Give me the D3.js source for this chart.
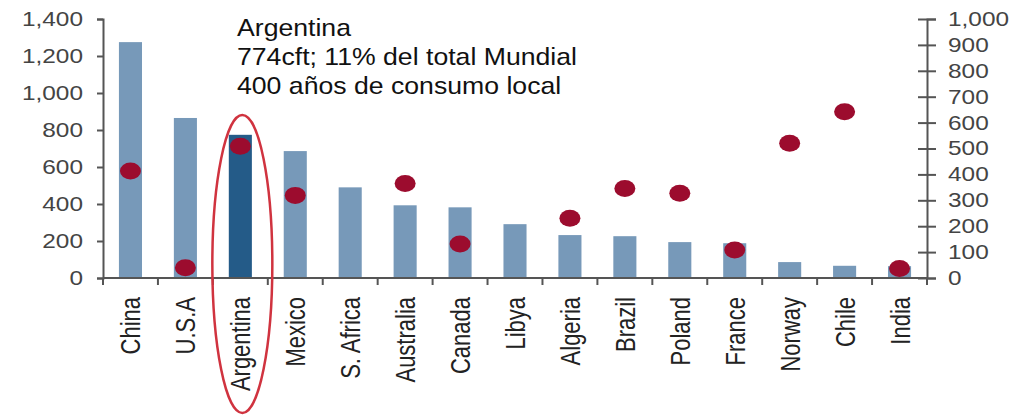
<!DOCTYPE html>
<html>
<head>
<meta charset="utf-8">
<script src="https://cdn.jsdelivr.net/npm/d3@7"></script>
<style>
  body { margin: 0; background: #fff; }
  svg { font-family: Arial, "Liberation Sans", sans-serif; }
</style>
</head>
<body>
<div id="chart"></div>
<script>
const countries = ["China", "U.S.A", "Argentina", "Mexico", "S. Africa", "Australia", "Canada", "Libya",
    "Algeria", "Brazil", "Poland", "France", "Norway", "Chile", "India"];
// reservas (barras, eje izquierdo)
const reserves = [1275, 865, 774, 686, 490, 393, 382, 291, 232, 226, 194, 188, 86, 66, 64];
// años de consumo (puntos, eje derecho); S. Africa / Libya sin punto
const years = [413, 40, 509, 319, null, 365, 131, null, 231, 346, 327, 108, 520, 642, 37];
const leftTicks = [0, 200, 400, 600, 800, 1000, 1200, 1400];
const rightTicks = [0, 100, 200, 300, 400, 500, 600, 700, 800, 900, 1000];
const noteLines = ["Argentina", "774cft; 11% del total Mundial", "400 años de consumo local"];

const width = 1027, height = 415;
const margin = {top: 19, right: 100, bottom: 137, left: 103};
const x0 = margin.left, x1 = width - margin.right, yBase = height - margin.bottom;
const stretch = 1.22; // la imagen original está algo ensanchada

const svg = d3.select("#chart").append("svg")
    .attr("width", width)
    .attr("height", height);

const x = d3.scaleBand().domain(countries).range([x0, x1]).paddingInner(0.58).paddingOuter(0.29);
const yL = d3.scaleLinear().domain([0, 1400]).range([yBase, margin.top]);
const yR = d3.scaleLinear().domain([0, 1000]).range([yBase, margin.top]);

// barras
svg.append("g").selectAll("rect")
    .data(countries)
    .join("rect")
    .attr("x", d => x(d))
    .attr("width", x.bandwidth())
    .attr("y", (d, i) => yL(reserves[i]))
    .attr("height", (d, i) => yBase - yL(reserves[i]))
    .attr("fill", d => d === "Argentina" ? "#245b88" : "#7799b9");

// eje izquierdo
const axL = svg.append("g")
    .attr("transform", `translate(${x0},0)`)
    .call(d3.axisLeft(yL).tickValues(leftTicks).tickFormat(d3.format(",")).tickSize(6));
axL.selectAll(".tick text").attr("x", 0).attr("transform", `translate(-20,0) scale(${stretch},1)`);

// eje derecho
const axR = svg.append("g")
    .attr("transform", `translate(${x1},0)`)
    .call(d3.axisRight(yR).tickValues(rightTicks).tickFormat(d3.format(",")).tickSize(9));
axR.selectAll(".tick line").attr("x1", -9);
axR.selectAll(".tick text").attr("x", 0).attr("transform", `translate(21,0) scale(${stretch},1)`);

[axL, axR].forEach(a => {
    a.select(".domain").attr("stroke", "#555").attr("stroke-width", 2);
    a.selectAll(".tick line").attr("stroke", "#555").attr("stroke-width", 2);
    a.selectAll(".tick text").attr("fill", "#444").style("font-size", "20px");
});

// eje x
const edges = countries.map(d => x(d) - x.step() * x.paddingInner() / 2).concat([x1]);
const axX = svg.append("g");
axX.append("line").attr("x1", x0).attr("x2", x1).attr("y1", yBase).attr("y2", yBase);
axX.selectAll(".edge").data(edges).join("line").attr("class", "edge")
    .attr("x1", d => d).attr("x2", d => d).attr("y1", yBase).attr("y2", yBase + 7);
axX.selectAll("line").attr("stroke", "#555").attr("stroke-width", 2);

axX.selectAll(".lbl").data(countries).join("text").attr("class", "lbl")
    .attr("transform", d => `translate(${x(d) + x.bandwidth() / 2 + 10},${yBase + 19}) scale(${stretch},1) rotate(-90)`)
    .attr("text-anchor", "end")
    .attr("fill", "#222")
    .style("font-size", "22px")
    .text(d => d);

// puntos
svg.append("g").selectAll("ellipse")
    .data(countries.map((c, i) => ({c, v: years[i]})).filter(d => d.v != null))
    .join("ellipse")
    .attr("cx", d => x(d.c) + x.bandwidth() / 2)
    .attr("cy", d => yR(d.v))
    .attr("rx", 10.5)
    .attr("ry", 8.5)
    .attr("fill", "#9c0c2e");

// óvalo resaltando Argentina
const ax = x("Argentina") + x.bandwidth() / 2;
svg.append("ellipse")
    .attr("cx", ax + 2)
    .attr("cy", 264)
    .attr("rx", 30)
    .attr("ry", 149)
    .attr("fill", "none")
    .attr("stroke", "#d0333f")
    .attr("stroke-width", 2.5);

// nota
svg.append("g").selectAll("text")
    .data(noteLines)
    .join("text")
    .attr("transform", (d, i) => `translate(237,${35.5 + i * 29}) scale(1.11,1)`)
    .attr("fill", "#111")
    .style("font-size", "24px")
    .text(d => d);
</script>
</body>
</html>
